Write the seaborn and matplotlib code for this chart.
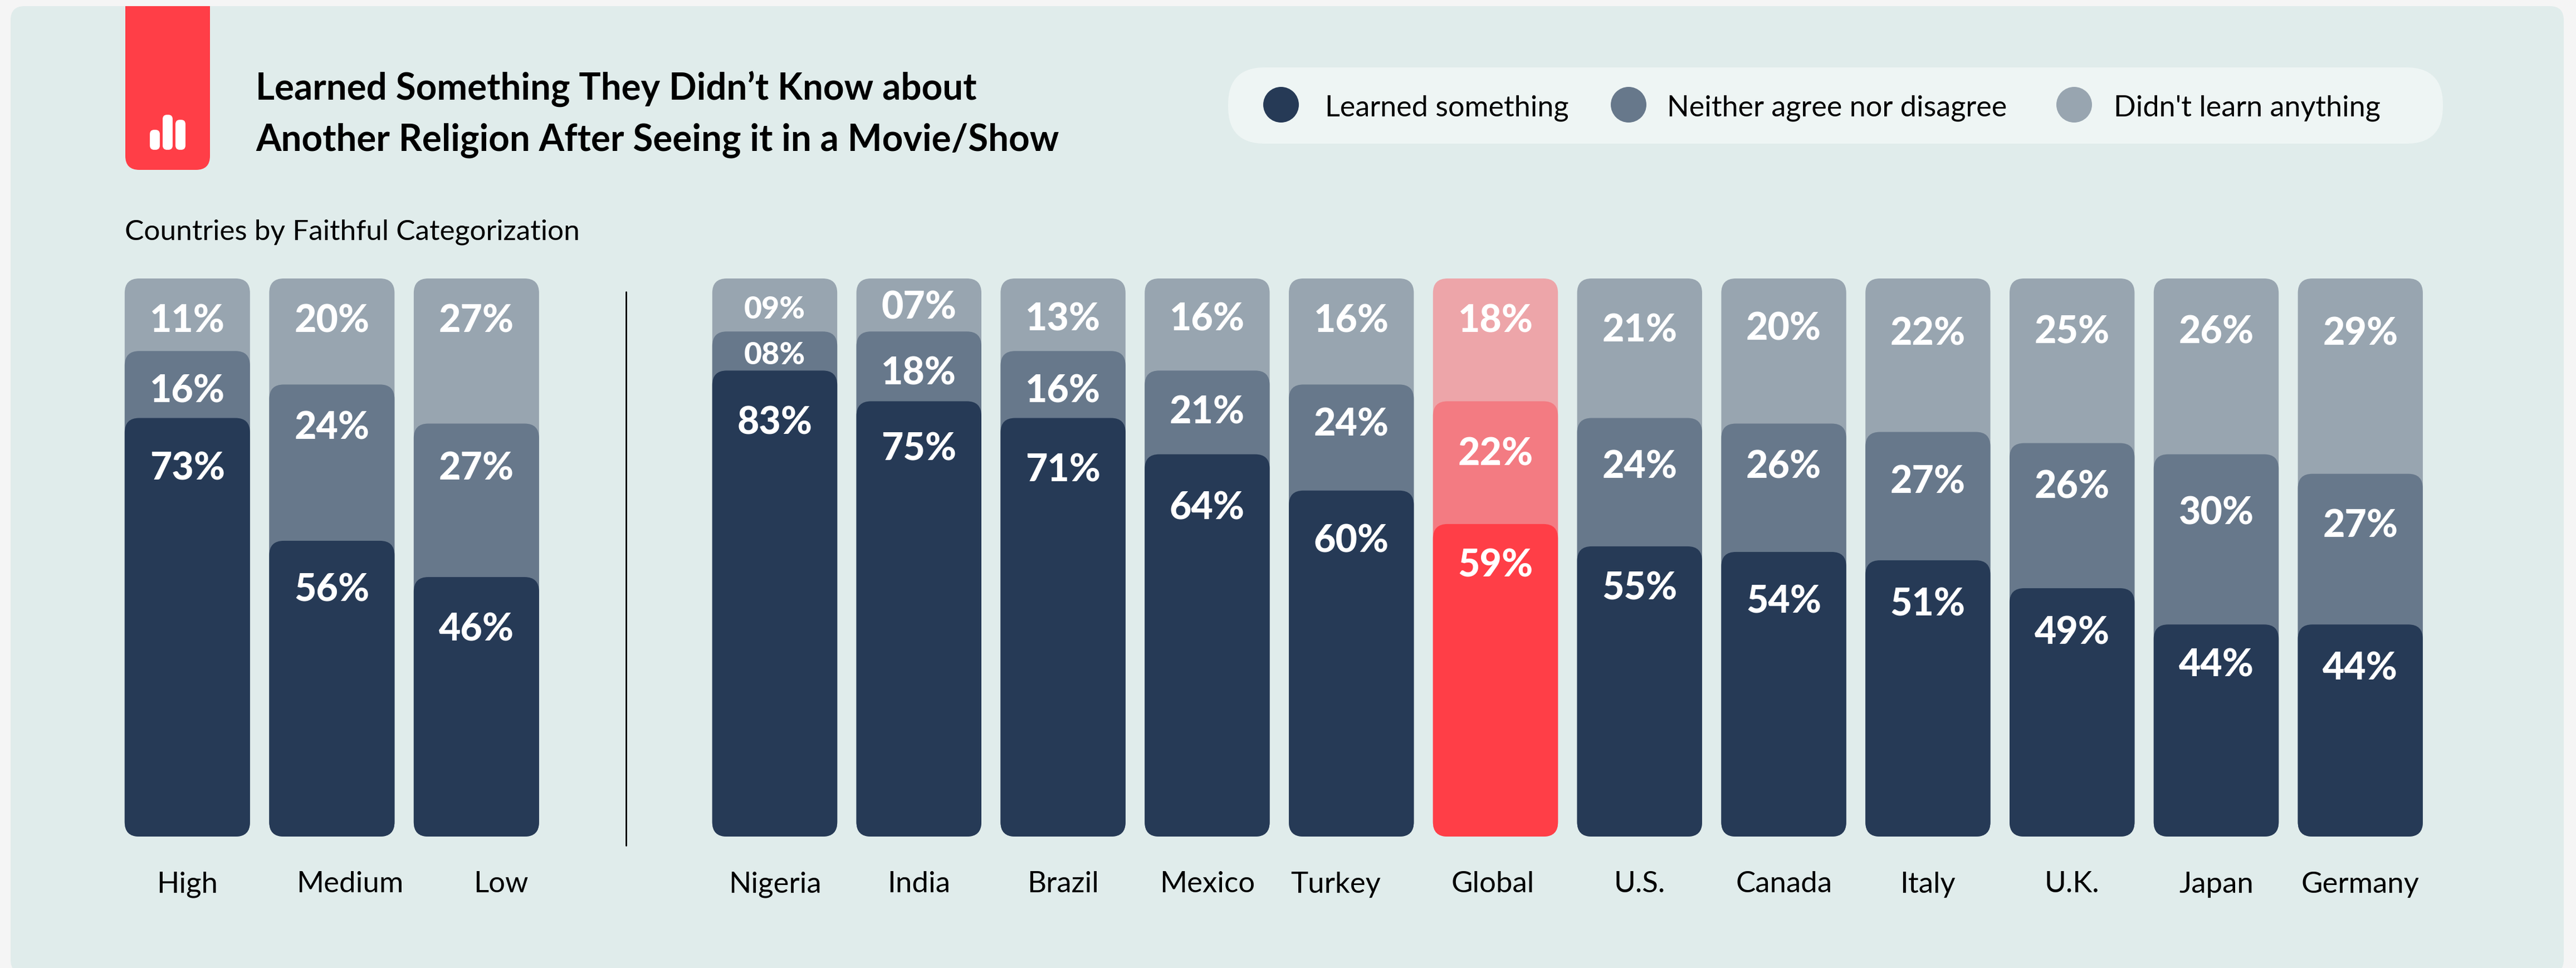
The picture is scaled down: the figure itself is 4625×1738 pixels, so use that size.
#!/usr/bin/env python3
"""
Learned something about another religion, stacked bars by country
"""

import pandas as pd
import seaborn as sns
import matplotlib.pyplot as plt
from matplotlib.patches import FancyBboxPatch, Rectangle, Circle
from matplotlib.transforms import ScaledTranslation

# Categories
faith_groups = ['High', 'Medium', 'Low']
countries = ['Nigeria', 'India', 'Brazil', 'Mexico', 'Turkey', 'Global',
             'U.S.', 'Canada', 'Italy', 'U.K.', 'Japan', 'Germany']

# Printed percentages
group_learned = [73, 56, 46]
group_neither = [16, 24, 27]
group_nothing = [11, 20, 27]
country_learned = [83, 75, 71, 64, 60, 59, 55, 54, 51, 49, 44, 44]
country_neither = [8, 18, 16, 21, 24, 22, 24, 26, 27, 26, 30, 27]
country_nothing = [9, 7, 13, 16, 16, 18, 21, 20, 22, 25, 26, 29]

# Bar tops as drawn in the picture (they do not quite follow the printed numbers)
group_learned_top = [75, 53, 46.5]
group_neither_top = [87, 81, 74]
country_learned_top = [83.5, 78, 75, 68.5, 62, 56, 52, 51, 49.5, 44.5, 38, 38]
country_neither_top = [90.5, 90.5, 87, 83.5, 81, 78, 75, 74, 72.5, 70.5, 68.5, 65]

legend_labels = ['Learned something', 'Neither agree nor disagree', "Didn't learn anything"]

# Where the printed numbers sit on the 0-100 scale, not placed by any rule in the original
group_label_y = [[92.3, 92.3, 92.3], [79.7, 73.2, 65.9], [65.9, 44.1, 37.0]]
country_label_y = [
    [94.4, 94.7, 92.6, 92.6, 92.3, 92.3, 90.6, 90.9, 90.0, 90.3, 90.3, 90.0],
    [86.2, 82.9, 79.7, 75.9, 73.8, 68.5, 66.2, 66.2, 63.5, 62.6, 57.9, 55.6],
    [74.1, 69.4, 65.6, 58.8, 52.9, 48.5, 44.4, 42.0, 41.5, 36.4, 30.6, 30.0],
]
# Some axis names are off centre in the original (pixels)
TICK_NUDGE = {'Medium': 32, 'Low': 44, 'Turkey': -28, 'Global': -5}

DARK, MID, LIGHT = '#263A56', '#67788B', '#98A5B0'
RED, RED_MID, RED_LIGHT = '#FF3E47', '#F37B82', '#EDA5A9'
PANEL = '#E0ECEB'
W, H = 4625, 1738
FONT = 'Lato'


def rounded(ax, radius_px):
    """Swap the seaborn rectangles for rounded ones with the same extents."""
    x0, y0 = ax.transData.transform((0, 0))
    x1, y1 = ax.transData.transform((1, 1))
    px_x, px_y = abs(x1 - x0), abs(y1 - y0)
    for bar in list(ax.patches):
        box = FancyBboxPatch(
            (bar.get_x(), bar.get_y()), bar.get_width(), bar.get_height(),
            boxstyle=f'round,pad=0,rounding_size={radius_px / px_x}',
            mutation_aspect=px_x / px_y,
            facecolor=bar.get_facecolor(), edgecolor='none', zorder=bar.get_zorder())
        bar.remove()
        ax.add_patch(box)


def stacked(ax, names, learned, neither, nothing, learned_top, neither_top, label_y):
    df = pd.DataFrame({'name': names, 'learned': learned_top, 'upper': neither_top,
                       'full': [100] * len(names)})

    for col, color, red in [('full', LIGHT, RED_LIGHT), ('upper', MID, RED_MID), ('learned', DARK, RED)]:
        palette = {n: (red if n == 'Global' else color) for n in names}
        sns.barplot(data=df, x='name', y=col, hue='name', palette=palette, legend=False,
                    width=0.867, saturation=1, ax=ax)

    ax.set_xlim(-0.5, len(names) - 0.5)
    ax.set_ylim(0, 100)
    ax.set_xlabel('')
    ax.set_ylabel('')
    ax.set_yticks([])
    ax.tick_params(axis='x', length=0, pad=45, labelsize=38, colors='black')
    ax.patch.set_alpha(0)
    sns.despine(ax=ax, left=True, bottom=True)
    rounded(ax, 26)

    for tick in ax.get_xticklabels():
        nudge = TICK_NUDGE.get(tick.get_text(), 0)
        if nudge:
            tick.set_transform(tick.get_transform() + ScaledTranslation(nudge / 100, 0, ax.figure.dpi_scale_trans))

    for i in range(len(names)):
        small = nothing[i] < 10 and neither[i] < 10
        for k, val in enumerate([nothing[i], neither[i], learned[i]]):
            size = 40 if small and k < 2 else 49
            ax.text(i, label_y[k][i], f'{val:02d}%', ha='center', va='center', color='white',
                    fontsize=size, fontweight='black', family=FONT)


sns.set_theme(style='white')
plt.rcParams['font.family'] = [FONT, 'DejaVu Sans']

fig = plt.figure(figsize=(W / 100, H / 100), dpi=100, facecolor='#F5F5F5')

# Page furniture, drawn in pixel coordinates
bg = fig.add_axes([0, 0, 1, 1], zorder=0)
bg.set_xlim(0, W)
bg.set_ylim(H, 0)
bg.axis('off')
bg.add_patch(FancyBboxPatch((19, 11), 4584, 1737, boxstyle='round,pad=0,rounding_size=25',
                            facecolor=PANEL, edgecolor='none'))

# Red tab with the little bars icon
bg.add_patch(FancyBboxPatch((225, 11), 152, 294, boxstyle='round,pad=0,rounding_size=25',
                            facecolor=RED, edgecolor='none'))
bg.add_patch(Rectangle((225, 11), 152, 60, facecolor=RED, edgecolor='none'))
for x, top in [(269, 233), (292, 206), (315, 215)]:
    bg.add_patch(FancyBboxPatch((x, top), 18, 269 - top, boxstyle='round,pad=0,rounding_size=8',
                                facecolor='white', edgecolor='none'))

bg.text(459, 180, 'Learned Something They Didn’t Know about', fontsize=47.2, fontweight='bold',
        va='baseline', color='black')
bg.text(459, 271, 'Another Religion After Seeing it in a Movie/Show', fontsize=47.2, fontweight='bold',
        va='baseline', color='black')
bg.text(224, 430, 'Countries by Faithful Categorization', fontsize=37, va='baseline', color='black')

# Legend pill
bg.add_patch(FancyBboxPatch((2205, 121), 2181, 137, boxstyle='round,pad=0,rounding_size=66',
                            facecolor='#EEF5F4', edgecolor='none'))
for cx, tx, color, label in zip([2300, 2924, 3724], [2379, 2993, 3795], [DARK, MID, LIGHT], legend_labels):
    bg.add_patch(Circle((cx, 188), 32, facecolor=color, edgecolor='none'))
    bg.text(tx, 208, label, fontsize=37.6, va='baseline', color='black')

# Divider between the two groups
bg.plot([1124, 1124], [524, 1518], color='black', lw=2)

# Bars
y0 = (H - 1502) / H
h = 1002 / H
left = fig.add_axes([206.6 / W, y0, 3 * 259.5 / W, h], zorder=1)
right = fig.add_axes([1261.6 / W, y0, 12 * 258.8 / W, h], zorder=1)
stacked(left, faith_groups, group_learned, group_neither, group_nothing,
        group_learned_top, group_neither_top, group_label_y)
stacked(right, countries, country_learned, country_neither, country_nothing,
        country_learned_top, country_neither_top, country_label_y)

fig.savefig('out.png', dpi=100, facecolor=fig.get_facecolor())
